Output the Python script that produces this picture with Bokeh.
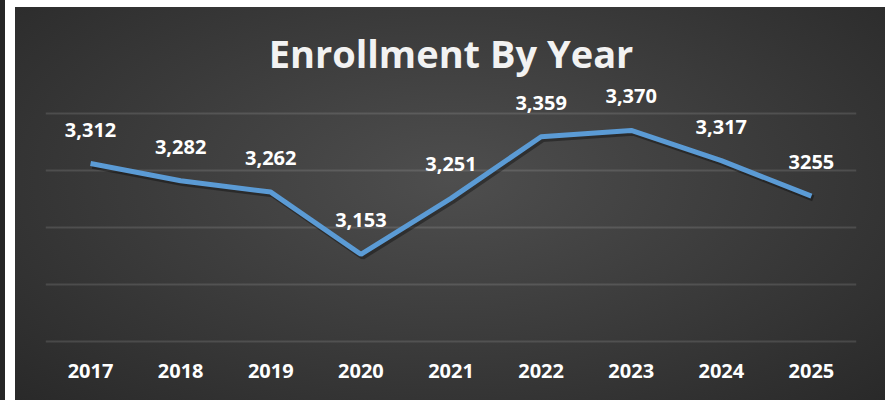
from bokeh.plotting import figure
from bokeh.models import ColumnDataSource, FixedTicker, LabelSet
from bokeh.core.properties import value
from bokeh.embed import file_html
from bokeh.resources import INLINE

years = ["2017", "2018", "2019", "2020", "2021", "2022", "2023", "2024", "2025"]
enrollment = [3312, 3282, 3262, 3153, 3251, 3359, 3370, 3317, 3255]
value_labels = ["3,312", "3,282", "3,262", "3,153", "3,251", "3,359", "3,370", "3,317", "3255"]
grid_values = [3000, 3100, 3200, 3300, 3400]

xs = [i + 0.5 for i in range(len(years))]
src = ColumnDataSource(dict(x=xs, y=enrollment, label=value_labels))
shadow = ColumnDataSource(dict(x=[v + 0.02 for v in xs], y=[v - 4 for v in enrollment]))

p = figure(width=885, height=400, x_range=(0, len(years)), y_range=(2995, 3454),
           output_backend="svg", toolbar_location=None,
           min_border_left=45, min_border_right=29, min_border_top=82, min_border_bottom=56,
           title="Enrollment By Year")
p.styles = {"background": ("linear-gradient(to right, #262626 0px, #262626 5px, #ffffff 5px, #ffffff 15px, transparent 15px), "
                           "linear-gradient(to bottom, #ffffff 0px, #ffffff 7px, transparent 7px), "
                           "radial-gradient(ellipse 75% 85% at 51% 45%, #4e4e4e 0%, #3a3a3a 50%, #262626 100%)")}
p.background_fill_alpha = 0
p.border_fill_alpha = 0
p.outline_line_color = None

p.title.align = "center"
p.title.text_font = "Open Sans"
p.title.text_font_style = "bold"
p.title.text_font_size = "38px"
p.title.text_color = "#F2F2F2"
p.title.standoff = 7

p.yaxis.visible = False
p.ygrid[0].ticker = FixedTicker(ticks=grid_values)
p.ygrid.grid_line_color = "#ffffff"
p.ygrid.grid_line_alpha = 0.12
p.ygrid.grid_line_width = 2
p.xgrid.visible = False

p.xaxis.ticker = FixedTicker(ticks=xs)
p.xaxis.major_label_overrides = {x: y for x, y in zip(xs, years)}
p.xaxis.axis_line_color = None
p.xaxis.major_tick_line_color = None
p.xaxis.minor_tick_line_color = None
p.xaxis.major_label_text_font = "Open Sans"
p.xaxis.major_label_text_font_style = "bold"
p.xaxis.major_label_text_font_size = "20px"
p.xaxis.major_label_text_color = "#FFFFFF"
p.xaxis.major_label_standoff = 13

p.line("x", "y", source=shadow, line_color="#000000", line_alpha=0.35, line_width=6)
p.line("x", "y", source=src, line_color="#5B9BD5", line_width=5)

labels = LabelSet(x="x", y="y", text="label", source=src, y_offset=34,
                  text_align="center", text_baseline="middle",
                  text_font=value("Open Sans"), text_font_style="bold", text_font_size="20px",
                  text_color="#FFFFFF")
p.add_layout(labels)

open("out.html", "w").write(file_html(p, INLINE))
